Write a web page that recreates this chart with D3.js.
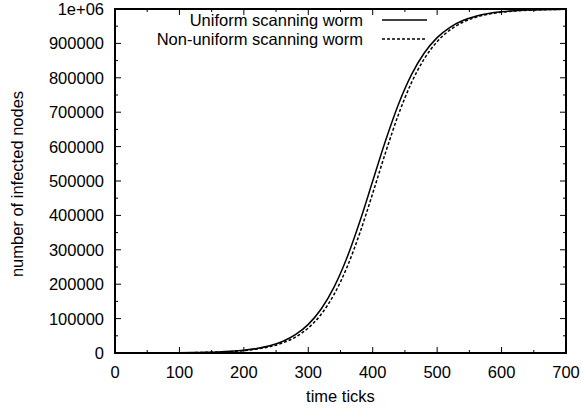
<!DOCTYPE html>
<html>
<head>
<meta charset="utf-8">
<script src="https://cdn.jsdelivr.net/npm/d3@7"></script>
<style>
  body { margin: 0; background: #fff; }
  svg text { font-family: "Liberation Sans", Arial, sans-serif; fill: #000; }
</style>
</head>
<body>
<div id="chart"></div>
<script>
const width = 582
const height = 408
const margin = { top: 9, right: 16, bottom: 55, left: 115 }
const fs = 16.5 // font size used everywhere

// time ticks (x), sampled every 20 ticks
const ticks = [0, 20, 40, 60, 80, 100, 120, 140, 160, 180, 200, 220, 240, 260, 280, 300, 320, 340,
  360, 380, 400, 420, 440, 460, 480, 500, 520, 540, 560, 580, 600, 620, 640, 660, 680, 700]

// infected nodes, uniform scanning worm (solid)
const uniform = [70, 110, 180, 290, 460, 750, 1200, 1950, 3100, 5100, 8200, 13100, 21000, 33600,
  53200, 83200, 128000, 191600, 276800, 382300, 500000, 617700, 723200, 808400, 872000, 916800,
  946800, 966400, 979000, 986900, 991800, 994900, 996900, 998100, 998800, 999300]

// infected nodes, non-uniform scanning worm (dashed)
const nonUniform = [60, 95, 150, 250, 400, 650, 1040, 1690, 2720, 4380, 7070, 11400, 18300, 29200,
  46300, 72700, 112600, 170200, 249000, 348900, 464100, 583200, 693400, 785200, 855200, 905100,
  939100, 961400, 975800, 984900, 990600, 994100, 996400, 997800, 998600, 999100]

const seriesNames = ["Uniform scanning worm", "Non-uniform scanning worm"]
const xTickLabels = [0, 100, 200, 300, 400, 500, 600, 700]
const yTickLabels = [0, 100000, 200000, 300000, 400000, 500000, 600000, 700000, 800000, 900000, 1000000]

const svg = d3.select("#chart").append("svg")
  .attr("width", width)
  .attr("height", height)

const iw = width - margin.left - margin.right
const ih = height - margin.top - margin.bottom
const g = svg.append("g").attr("transform", `translate(${margin.left},${margin.top})`)

const x = d3.scaleLinear().domain([0, 700]).range([0, iw])
const y = d3.scaleLinear().domain([0, 1000000]).range([ih, 0])

const xMinor = d3.range(50, 700, 100)
const yMinor = d3.range(50000, 1000000, 100000)

// ticks on all four sides, pointing inward
function tickMarks(vals, len, horizontal) {
  vals.forEach(v => {
    if (horizontal) {
      g.append("line").attr("x1", x(v)).attr("x2", x(v)).attr("y1", ih).attr("y2", ih - len)
      g.append("line").attr("x1", x(v)).attr("x2", x(v)).attr("y1", 0).attr("y2", len)
    } else {
      g.append("line").attr("y1", y(v)).attr("y2", y(v)).attr("x1", 0).attr("x2", len)
      g.append("line").attr("y1", y(v)).attr("y2", y(v)).attr("x1", iw).attr("x2", iw - len)
    }
  })
}
tickMarks(xTickLabels, 6, true)
tickMarks(xMinor, 3, true)
tickMarks(yTickLabels, 6, false)
tickMarks(yMinor, 3, false)
g.selectAll("line").attr("stroke", "#000").attr("stroke-width", 1)

// tick labels
g.selectAll(".xl").data(xTickLabels).enter().append("text")
  .attr("x", d => x(d)).attr("y", ih + 25)
  .attr("text-anchor", "middle").attr("font-size", fs)
  .text(d => d)

g.selectAll(".yl").data(yTickLabels).enter().append("text")
  .attr("x", -11).attr("y", d => y(d) + 6)
  .attr("text-anchor", "end").attr("font-size", fs)
  .text(d => d === 1000000 ? "1e+06" : d)

// axis titles
svg.append("text")
  .attr("x", margin.left + iw / 2).attr("y", 402)
  .attr("text-anchor", "middle").attr("font-size", fs)
  .text("time ticks")

svg.append("text")
  .attr("transform", `translate(23,${margin.top + ih / 2 + 3}) rotate(-90)`)
  .attr("text-anchor", "middle").attr("font-size", fs)
  .text("number of infected nodes")

// curves
const line = vals => d3.line()
  .x((d, i) => x(ticks[i]))
  .y(d => y(d))
  .curve(d3.curveMonotoneX)(vals)

g.append("path").attr("d", line(uniform))
  .attr("fill", "none").attr("stroke", "#000").attr("stroke-width", 1.5)

g.append("path").attr("d", line(nonUniform))
  .attr("fill", "none").attr("stroke", "#000").attr("stroke-width", 1.5)
  .attr("stroke-dasharray", "3,2")

// frame
g.append("rect").attr("width", iw).attr("height", ih)
  .attr("fill", "none").attr("stroke", "#000").attr("stroke-width", 2)

// legend
const legend = g.append("g")
seriesNames.forEach((name, i) => {
  const ly = 11 + i * 19
  legend.append("text").attr("x", 248).attr("y", ly + 6)
    .attr("text-anchor", "end").attr("font-size", fs).text(name)
  legend.append("line").attr("x1", 267).attr("x2", 312).attr("y1", ly).attr("y2", ly)
    .attr("stroke", "#000").attr("stroke-width", 1.5)
    .attr("stroke-dasharray", i === 1 ? "3,2" : null)
})
</script>
</body>
</html>
